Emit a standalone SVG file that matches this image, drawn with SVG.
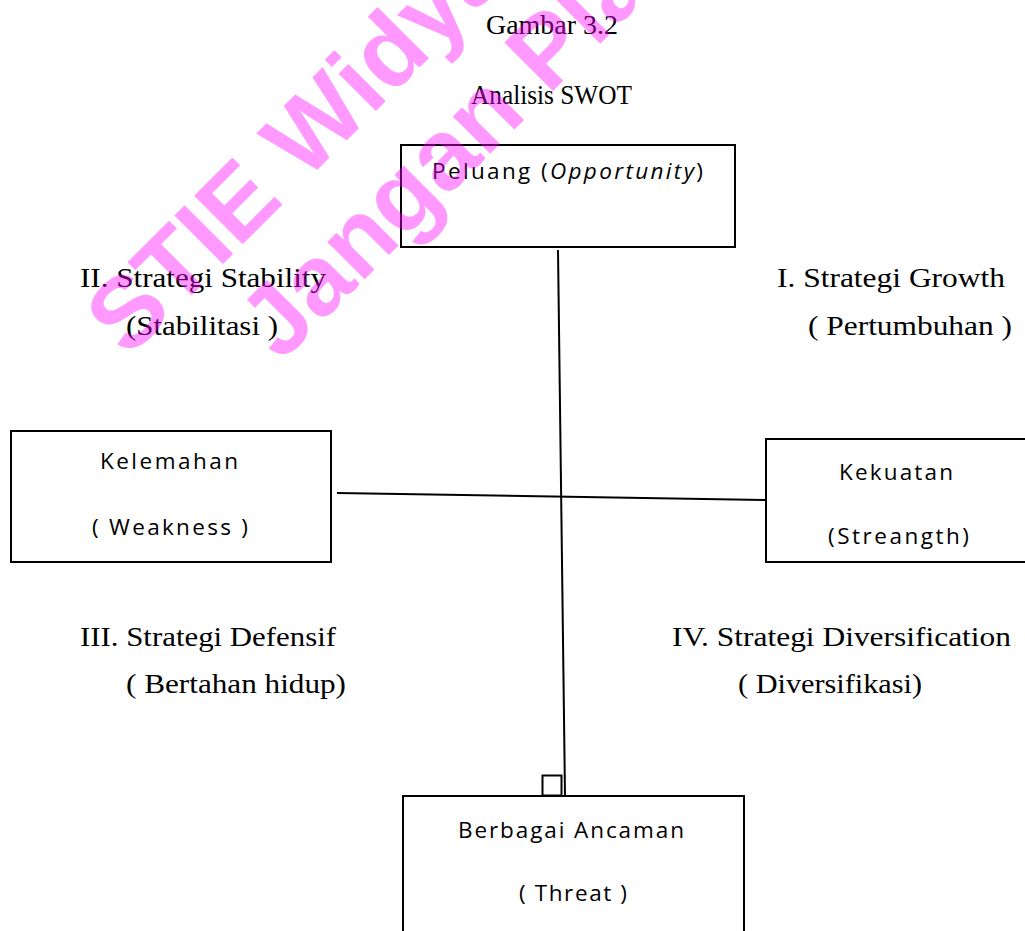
<svg xmlns="http://www.w3.org/2000/svg" width="1025" height="931" viewBox="0 0 1025 931">
<style>
.serif{font-family:"Liberation Serif","Times New Roman",serif;font-size:27px;fill:#000}
.sans{font-family:"Open Sans","Liberation Sans",sans-serif;font-size:22.5px;fill:#000}
.box{fill:#fff;stroke:#000;stroke-width:2}
.conn{stroke:#000;stroke-width:2;fill:none}
.wm{font-family:"Liberation Sans",Arial,sans-serif;font-weight:bold;font-size:100px;fill:#ff00ff;fill-opacity:0.4}
</style>
<rect width="1025" height="931" fill="#fff"/>
<g id="title">
<text class="serif" x="486" y="34" textLength="132" lengthAdjust="spacingAndGlyphs">Gambar 3.2</text>
<text class="serif" x="471" y="104" textLength="161" lengthAdjust="spacingAndGlyphs">Analisis SWOT</text>
</g>
<g id="connectors">
<line class="conn" x1="558" y1="250" x2="565" y2="796"/>
<line class="conn" x1="337" y1="493" x2="766" y2="500"/>
<rect class="conn" x="542.5" y="775.5" width="19" height="20"/>
</g>
<g id="opportunity">
<rect class="box" x="401" y="145" width="334" height="102"/>
<text class="sans" x="432" y="179" textLength="271" lengthAdjust="spacing">Peluang (<tspan font-style="italic">Opportunity</tspan>)</text>
</g>
<g id="weakness">
<rect class="box" x="11" y="431" width="320" height="131"/>
<text class="sans" x="100" y="469" textLength="138" lengthAdjust="spacing">Kelemahan</text>
<text class="sans" x="92" y="535" textLength="156" lengthAdjust="spacing">( Weakness )</text>
</g>
<g id="strength">
<rect class="box" x="766" y="439" width="270" height="123"/>
<text class="sans" x="839" y="480" textLength="114" lengthAdjust="spacing">Kekuatan</text>
<text class="sans" x="828" y="544" textLength="141" lengthAdjust="spacing">(Streangth)</text>
</g>
<g id="threat">
<rect class="box" x="403" y="796" width="341" height="150"/>
<text class="sans" x="458" y="838" textLength="226" lengthAdjust="spacing">Berbagai Ancaman</text>
<text class="sans" x="519" y="901" textLength="108" lengthAdjust="spacing">( Threat )</text>
</g>
<g id="quadrant-2">
<text class="serif" x="80" y="287" textLength="246" lengthAdjust="spacingAndGlyphs">II. Strategi Stability</text>
<text class="serif" x="126" y="335" textLength="152" lengthAdjust="spacingAndGlyphs">(Stabilitasi )</text>
</g>
<g id="quadrant-1">
<text class="serif" x="777" y="287" textLength="228" lengthAdjust="spacingAndGlyphs">I. Strategi Growth</text>
<text class="serif" x="808" y="335" textLength="204" lengthAdjust="spacingAndGlyphs">( Pertumbuhan )</text>
</g>
<g id="quadrant-3">
<text class="serif" x="80" y="646" textLength="256" lengthAdjust="spacingAndGlyphs">III. Strategi Defensif</text>
<text class="serif" x="126" y="693" textLength="220" lengthAdjust="spacingAndGlyphs">( Bertahan hidup)</text>
</g>
<g id="quadrant-4">
<text class="serif" x="672" y="646" textLength="339" lengthAdjust="spacingAndGlyphs">IV. Strategi Diversification</text>
<text class="serif" x="738" y="693" textLength="184" lengthAdjust="spacingAndGlyphs">( Diversifikasi)</text>
</g>
<g id="watermark">
<text class="wm" transform="translate(128,359) rotate(-45)">STIE Widya</text>
<text class="wm" transform="translate(281,363) rotate(-45)">Jangan Pla</text>
</g>
</svg>
